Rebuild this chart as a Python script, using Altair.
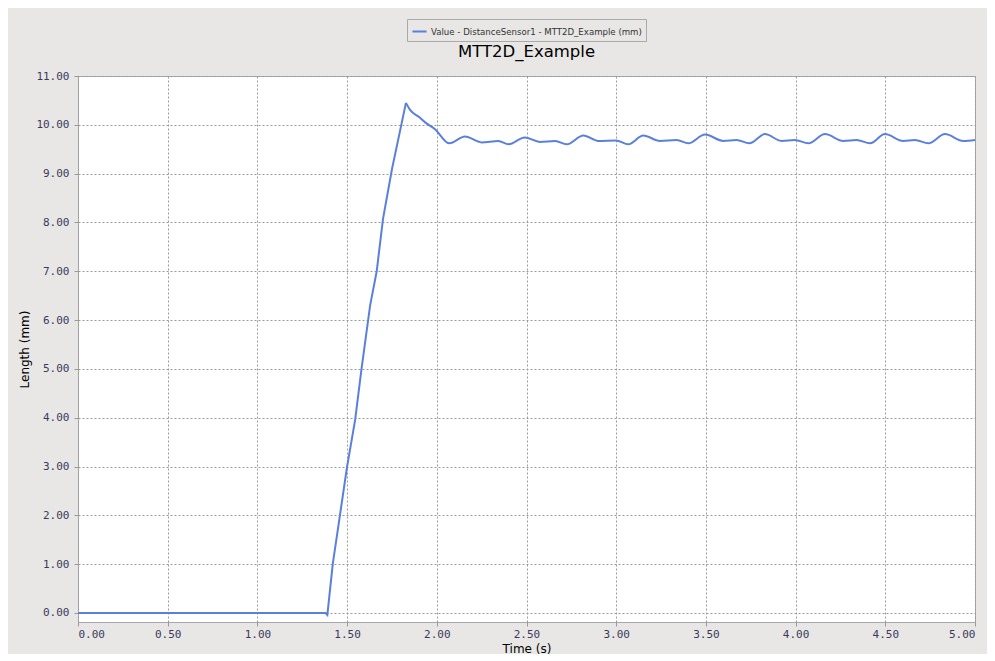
import altair as alt
import pandas as pd

# Data
time_s = [0.00, 1.38, 1.39, 1.42, 1.46, 1.50, 1.545, 1.58, 1.628, 1.665, 1.70,
          1.75, 1.828, 1.85, 1.905, 1.935, 1.99, 2.07, 2.157, 2.25, 2.343, 2.40, 2.49,
          2.575, 2.66, 2.724, 2.817, 2.90, 3.00, 3.067, 3.151, 3.244, 3.337, 3.402,
          3.495, 3.597, 3.671, 3.742, 3.829, 3.922, 3.997, 4.071, 4.164, 4.266, 4.34,
          4.415, 4.498, 4.60, 4.666, 4.74, 4.833, 4.935, 5.00]
length_mm = [0.00, 0.00, -0.04, 1.00, 2.00, 3.00, 3.96, 4.99, 6.29, 7.00, 8.07,
             9.09, 10.45, 10.31, 10.15, 10.05, 9.91, 9.62, 9.76, 9.64, 9.67, 9.60, 9.74,
             9.65, 9.67, 9.60, 9.78, 9.67, 9.68, 9.60, 9.78, 9.67, 9.69, 9.62,
             9.80, 9.67, 9.69, 9.62, 9.81, 9.67, 9.69, 9.62, 9.81, 9.67, 9.69,
             9.62, 9.81, 9.67, 9.69, 9.62, 9.81, 9.67, 9.69]
series_name = "Value - DistanceSensor1 - MTT2D_Example (mm)"
x_ticks = [0.0, 0.5, 1.0, 1.5, 2.0, 2.5, 3.0, 3.5, 4.0, 4.5, 5.0]
y_ticks = [0, 1, 2, 3, 4, 5, 6, 7, 8, 9, 10, 11]
peak_time = 1.828

df = pd.DataFrame({"t": time_s, "v": length_mm, "series": [series_name] * len(time_s)})
rise_df = df[df["t"] <= peak_time]
settle_df = df[df["t"] >= peak_time]

label_font = "DejaVu Sans Mono"
label_color = "#3a3a5c"
grid_color = "#9a9a9a"

x_enc = alt.X("t:Q",
              scale=alt.Scale(domain=[0, 5], nice=False, zero=False),
              axis=alt.Axis(values=x_ticks, format=".2f", title="Time (s)",
                            labelFont=label_font, labelFontSize=11, labelColor=label_color,
                            titleFont="DejaVu Sans", titleFontSize=12, titleFontWeight="normal",
                            titleColor="#000000", titleX=448.5, titleY=26, titleBaseline="middle",
                            grid=True, gridDash=[2, 2], gridColor=grid_color, gridOpacity=1,
                            domain=False, tickColor=grid_color, tickSize=4, labelPadding=2))
y_enc = alt.Y("v:Q",
              scale=alt.Scale(domain=[-0.185, 11], nice=False, zero=False),
              axis=alt.Axis(values=y_ticks, format=".2f", title="Length (mm)",
                            labelFont=label_font, labelFontSize=11, labelColor=label_color,
                            titleFont="DejaVu Sans", titleFontSize=12, titleFontWeight="normal",
                            titleColor="#000000", titleX=-54, titleY=273, titleAngle=270,
                            titleAlign="center", titleBaseline="middle",
                            grid=True, gridDash=[2, 2], gridColor=grid_color, gridOpacity=1,
                            domain=False, tickColor=grid_color, tickSize=4, labelPadding=5))
c_enc = alt.Color("series:N",
                  scale=alt.Scale(range=["#5b7fdc"]),
                  legend=alt.Legend(title=None, orient="none", legendX=329, legendY=-57,
                                    strokeColor="#aaaaaa", padding=4, labelLimit=0,
                                    labelFont="DejaVu Sans", labelFontSize=8.6,
                                    labelColor="#333333", labelOffset=3,
                                    symbolType="stroke", symbolStrokeWidth=2,
                                    symbolSize=200))

rise = alt.Chart(rise_df).mark_line(strokeWidth=2, interpolate="linear").encode(
    x=x_enc, y=y_enc, color=c_enc)
settle = alt.Chart(settle_df).mark_line(strokeWidth=2, interpolate="monotone").encode(
    x=x_enc, y=y_enc, color=c_enc)

chart = alt.layer(rise, settle).properties(
    width=897,
    height=546,
    title=alt.TitleParams(text="MTT2D_Example", font="DejaVu Sans", fontSize=16.5,
                          fontWeight="normal", color="#000000", anchor="middle",
                          frame="group", offset=-55, baseline="alphabetic"),
    autosize=alt.AutoSizeParams(type="none"),
    padding={"left": 70, "top": 68, "right": 12, "bottom": 32},
    background="#e8e7e6",
).configure_view(fill="white", stroke="#a8a8a8", strokeWidth=1)

chart.save("out.html", embed_options={"renderer": "svg", "actions": False})
